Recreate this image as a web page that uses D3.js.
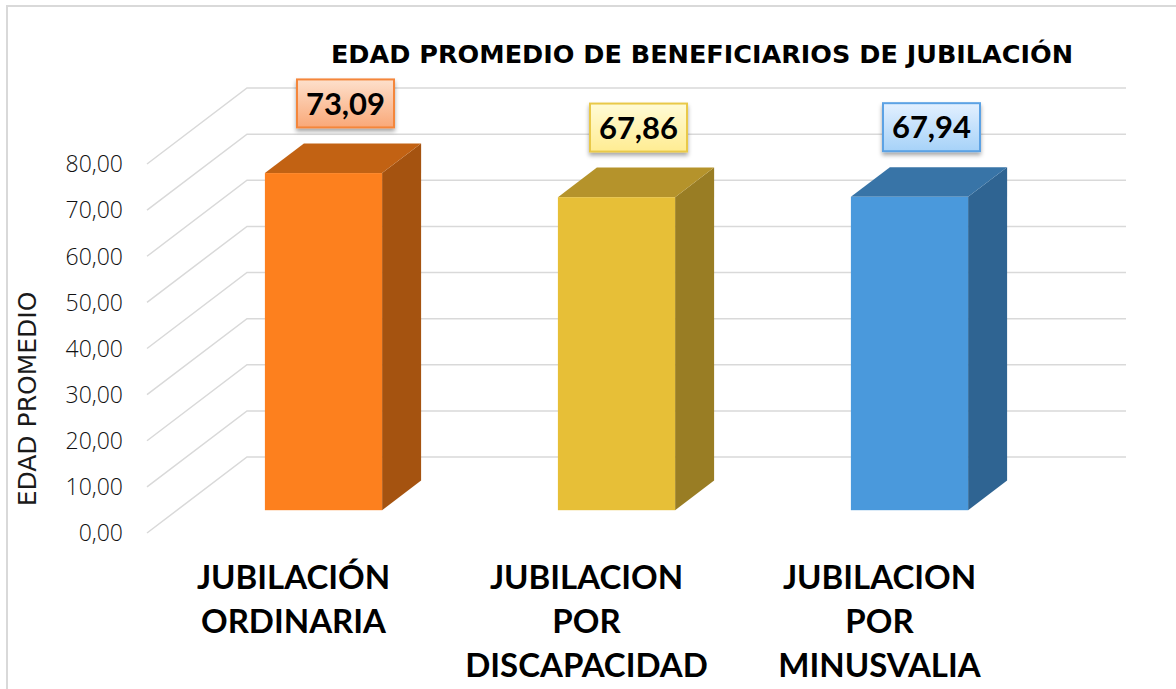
<!DOCTYPE html>
<meta charset="utf-8">
<script src="https://d3js.org/d3.v7.min.js"></script>
<style>
  body { margin: 0; background: #fff; }
</style>
<div id="my_dataviz"></div>
<script>
// data
var categories = ["JUBILACIÓN ORDINARIA", "JUBILACION POR DISCAPACIDAD", "JUBILACION POR MINUSVALIA"];
var catLines = [["JUBILACIÓN", "ORDINARIA"], ["JUBILACION", "POR", "DISCAPACIDAD"], ["JUBILACION", "POR", "MINUSVALIA"]];
var values = [73.09, 67.86, 67.94];
var valueLabels = ["73,09", "67,86", "67,94"];
var ticks = [0, 10, 20, 30, 40, 50, 60, 70, 80];
var tickLabels = ["0,00", "10,00", "20,00", "30,00", "40,00", "50,00", "60,00", "70,00", "80,00"];

var W = 1176, H = 689;
// fake 3d: depth of the floor
var depthX = 100, depthY = -76;

var svg = d3.select("#my_dataviz")
  .append("svg")
    .attr("width", W)
    .attr("height", H);

var defs = svg.append("defs");
defs.append("filter").attr("id", "shadow")
    .attr("x", "-20%").attr("y", "-20%").attr("width", "140%").attr("height", "160%")
  .append("feDropShadow")
    .attr("dx", 0).attr("dy", 3).attr("stdDeviation", 2)
    .attr("flood-color", "#000").attr("flood-opacity", 0.35);

var faceCols = [
  {front: "#fd801e", top: "#c26213", side: "#a55310", box0: "#fde0cc", box1: "#f9a878", stroke: "#f4863a"},
  {front: "#e7bf37", top: "#b5932b", side: "#997d24", box0: "#fffbd6", box1: "#ffec92", stroke: "#e9c94a"},
  {front: "#4a99dc", top: "#3874a7", side: "#2f6492", box0: "#e3f0ff", box1: "#a6d2f8", stroke: "#5ba2e4"}
];
faceCols.forEach(function(c, i) {
  var g = defs.append("linearGradient").attr("id", "lg" + i)
    .attr("x1", 0).attr("y1", 0).attr("x2", 0).attr("y2", 1);
  g.append("stop").attr("offset", "0%").attr("stop-color", c.box0);
  g.append("stop").attr("offset", "100%").attr("stop-color", c.box1);
});

// outer border
svg.append("rect")
  .attr("x", 7).attr("y", 6).attr("width", W + 10).attr("height", H + 10)
  .attr("fill", "none").attr("stroke", "#d9d9d9").attr("stroke-width", 2);

var x = d3.scaleBand()
  .domain(categories)
  .range([147, 1026])
  .paddingInner(0.6)
  .paddingOuter(0.3);

var y = d3.scaleLinear()
  .domain([0, 80])
  .range([533, 164]);

function px(xv, z) { return xv + z * depthX; }
function py(v, z) { return y(v) + z * depthY; }

// gridlines: side wall diagonal + back wall
var left = x.range()[0], right = x.range()[1];
svg.append("g").selectAll("polyline")
  .data(ticks)
  .enter()
  .append("polyline")
    .attr("points", function(d) {
      return [[px(left, 0), py(d, 0)], [px(left, 1), py(d, 1)], [px(right, 1), py(d, 1)]].join(" ");
    })
    .attr("fill", "none")
    .attr("stroke", "#d9d9d9")
    .attr("stroke-width", 1.5);

// tick labels
svg.append("g").selectAll("text")
  .data(ticks)
  .enter()
  .append("text")
    .attr("x", 123)
    .attr("y", function(d) { return y(d); })
    .attr("dy", "0.36em")
    .attr("text-anchor", "end")
    .style("font-family", "'Open Sans', sans-serif")
    .style("font-weight", "300")
    .style("font-size", "23px")
    .style("fill", "#111")
    .text(function(d, i) { return tickLabels[i]; });

// y title
svg.append("text")
  .attr("transform", "translate(36,399) rotate(-90)")
  .attr("text-anchor", "middle")
  .style("font-family", "'DejaVu Sans', sans-serif")
  .style("font-size", "25px")
  .style("fill", "#1a1a1a")
  .text("EDAD PROMEDIO");

// bars
var z0 = 0.3, z1 = 0.69;
var bars = svg.append("g").selectAll("g")
  .data(categories)
  .enter()
  .append("g");

bars.append("polygon")   // side
  .attr("points", function(d, i) {
    var xr = x(d) + x.bandwidth();
    return [[px(xr, z0), py(0, z0)], [px(xr, z1), py(0, z1)], [px(xr, z1), py(values[i], z1)], [px(xr, z0), py(values[i], z0)]].join(" ");
  })
  .attr("fill", function(d, i) { return faceCols[i].side; });

bars.append("polygon")   // top
  .attr("points", function(d, i) {
    var xl = x(d), xr = x(d) + x.bandwidth(), v = values[i];
    return [[px(xl, z0), py(v, z0)], [px(xr, z0), py(v, z0)], [px(xr, z1), py(v, z1)], [px(xl, z1), py(v, z1)]].join(" ");
  })
  .attr("fill", function(d, i) { return faceCols[i].top; });

bars.append("rect")      // front
  .attr("x", function(d) { return px(x(d), z0); })
  .attr("y", function(d, i) { return py(values[i], z0); })
  .attr("width", x.bandwidth())
  .attr("height", function(d, i) { return py(0, z0) - py(values[i], z0); })
  .attr("fill", function(d, i) { return faceCols[i].front; });

// value labels in boxes
var bw = 97, bh = 48;
var lab = svg.append("g").selectAll("g")
  .data(categories)
  .enter()
  .append("g")
    .attr("transform", function(d, i) {
      var cx = px(x(d) + x.bandwidth() / 2, 0.52);
      var by = py(values[i], z1) - 16;
      return "translate(" + cx + "," + (by - bh / 2) + ")";
    });

lab.append("rect")
  .attr("x", -bw / 2).attr("y", -bh / 2)
  .attr("width", bw).attr("height", bh)
  .attr("fill", function(d, i) { return "url(#lg" + i + ")"; })
  .attr("stroke", function(d, i) { return faceCols[i].stroke; })
  .attr("stroke-width", 2)
  .attr("filter", "url(#shadow)");

lab.append("text")
  .attr("text-anchor", "middle")
  .attr("dy", "0.36em")
  .style("font-family", "Lato, sans-serif")
  .style("font-weight", "bold")
  .style("font-size", "31px")
  .style("fill", "#000")
  .text(function(d, i) { return valueLabels[i]; });

// category labels
var cat = svg.append("g").selectAll("text")
  .data(categories)
  .enter()
  .append("text")
    .attr("text-anchor", "middle")
    .style("font-family", "Lato, sans-serif")
    .style("font-weight", "bold")
    .style("font-size", "33px")
    .style("fill", "#000");

cat.selectAll("tspan")
  .data(function(d, i) { return catLines[i].map(function(t) { return {t: t, c: d}; }); })
  .enter()
  .append("tspan")
    .attr("x", function(d) { return x(d.c) + x.bandwidth() / 2; })
    .attr("y", function(d, j) { return 589 + j * 44; })
    .text(function(d) { return d.t; });

// title
svg.append("text")
  .attr("x", 702)
  .attr("y", 63)
  .attr("text-anchor", "middle")
  .style("font-family", "'DejaVu Sans', sans-serif")
  .style("font-weight", "bold")
  .style("font-size", "25.5px")
  .style("fill", "#000")
  .text("EDAD PROMEDIO DE BENEFICIARIOS DE JUBILACIÓN");
</script>
